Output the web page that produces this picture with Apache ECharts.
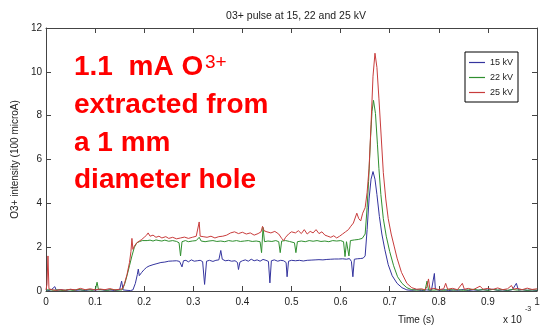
<!DOCTYPE html>
<html>
<head>
<meta charset="utf-8">
<style>
  html, body { margin: 0; padding: 0; background: #fff; }
  #chart { width: 549px; height: 328px; }
</style>
<script src="https://cdn.jsdelivr.net/npm/echarts@6/dist/echarts.min.js"></script>
</head>
<body>
<div id="chart"></div>
<script>
// O3+ beam pulse, time in units of 1e-3 s, intensity in units of 100 microA
const seriesNames = ['15 kV', '22 kV', '25 kV'];
const xTicks = [0, 0.1, 0.2, 0.3, 0.4, 0.5, 0.6, 0.7, 0.8, 0.9, 1];
const yTicks = [0, 2, 4, 6, 8, 10, 12];

const pulse15kV = [
  [0,0.05],[0.006,0.02],[0.012,0.08],[0.018,0.2],[0.021,0.03],[0.03,0.06],[0.04,0.02],[0.05,0.07],
  [0.06,0.03],[0.07,0.05],[0.08,0.02],[0.09,0.06],[0.1,0.04],[0.11,0.07],[0.12,0.03],[0.13,0.05],
  [0.14,0.02],[0.15,0.06],[0.154,0.45],[0.157,0.05],[0.165,0.03],[0.172,0.02],[0.177,0.05],[0.182,0.35],
  [0.186,0.75],[0.188,1.0],[0.19,0.7],[0.195,0.85],[0.2,0.98],[0.205,1.08],[0.21,1.14],[0.218,1.2],
  [0.226,1.25],[0.234,1.3],[0.242,1.32],[0.25,1.36],[0.258,1.37],[0.266,1.38],[0.272,1.35],[0.277,1.1],
  [0.28,1.38],[0.285,1.4],[0.29,1.33],[0.296,1.42],[0.302,1.36],[0.308,1.38],[0.314,1.4],[0.319,1.34],
  [0.323,0.3],[0.327,1.36],[0.333,1.4],[0.34,1.35],[0.346,1.4],[0.352,1.42],[0.356,1.85],[0.359,1.45],
  [0.365,1.38],[0.372,1.4],[0.378,1.36],[0.385,1.38],[0.39,1.3],[0.392,0.98],[0.395,1.32],[0.4,1.38],
  [0.406,1.42],[0.412,1.36],[0.418,1.45],[0.424,1.38],[0.43,1.42],[0.436,1.36],[0.442,1.44],[0.448,1.4],
  [0.453,1.35],[0.456,0.37],[0.459,1.38],[0.465,1.42],[0.472,1.36],[0.478,1.4],[0.484,1.38],[0.489,1.3],
  [0.491,0.65],[0.494,1.36],[0.5,1.4],[0.508,1.38],[0.516,1.4],[0.524,1.37],[0.532,1.4],[0.54,1.41],
  [0.548,1.42],[0.556,1.43],[0.564,1.42],[0.572,1.44],[0.58,1.45],[0.588,1.46],[0.596,1.46],[0.604,1.47],
  [0.612,1.45],[0.618,1.48],[0.622,1.35],[0.625,0.65],[0.628,1.45],[0.634,1.47],[0.64,1.48],[0.646,1.5],
  [0.65,1.6],[0.654,2.8],[0.658,4.2],[0.662,5.1],[0.666,5.45],[0.67,5.1],[0.674,4.4],[0.679,3.4],
  [0.684,2.6],[0.69,1.9],[0.697,1.2],[0.705,0.7],[0.715,0.35],[0.725,0.15],[0.735,0.05],[0.745,0.03],
  [0.755,0.06],[0.765,0.02],[0.775,0.05],[0.785,0.03],[0.789,0.1],[0.791,0.8],[0.793,0.08],[0.8,0.03],
  [0.81,0.06],[0.82,0.02],[0.83,0.05],[0.84,0.03],[0.85,0.07],[0.86,0.02],[0.87,0.05],[0.88,0.03],
  [0.89,0.06],[0.9,0.04],[0.91,0.08],[0.92,0.03],[0.93,0.05],[0.94,0.02],[0.95,0.06],[0.958,0.35],
  [0.962,0.04],[0.97,0.06],[0.98,0.03],[0.99,0.05],[1.0,0.02]
];

const pulse22kV = [
  [0,0.04],[0.008,0.06],[0.015,0.03],[0.025,0.05],[0.035,0.02],[0.045,0.06],[0.055,0.03],[0.065,0.07],
  [0.075,0.04],[0.085,0.06],[0.095,0.03],[0.101,0.1],[0.104,0.4],[0.107,0.05],[0.115,0.06],[0.125,0.03],
  [0.135,0.07],[0.145,0.04],[0.155,0.05],[0.16,0.3],[0.165,0.7],[0.17,1.15],[0.175,1.6],[0.18,2.0],
  [0.185,2.2],[0.19,2.25],[0.196,2.3],[0.2,2.35],[0.206,2.3],[0.212,2.32],[0.218,2.28],[0.224,2.33],
  [0.23,2.3],[0.236,2.28],[0.242,2.32],[0.25,2.27],[0.258,2.3],[0.266,2.26],[0.271,2.2],[0.274,1.6],
  [0.277,2.25],[0.284,2.3],[0.29,2.25],[0.298,2.28],[0.306,2.3],[0.312,2.45],[0.316,2.28],[0.324,2.25],
  [0.332,2.28],[0.34,2.3],[0.348,2.26],[0.356,2.28],[0.364,2.25],[0.372,2.3],[0.38,2.27],[0.388,2.3],
  [0.396,2.26],[0.404,2.28],[0.412,2.3],[0.42,2.26],[0.428,2.28],[0.436,2.25],[0.439,1.75],[0.442,2.9],
  [0.445,2.25],[0.452,2.28],[0.46,2.26],[0.468,2.3],[0.474,2.25],[0.477,1.75],[0.48,2.28],[0.488,2.3],
  [0.496,2.26],[0.506,2.2],[0.509,1.75],[0.512,2.25],[0.52,2.28],[0.528,2.25],[0.536,2.3],[0.544,2.27],
  [0.552,2.3],[0.56,2.26],[0.568,2.28],[0.576,2.25],[0.584,2.3],[0.592,2.28],[0.6,2.3],[0.606,2.25],
  [0.609,1.57],[0.612,2.25],[0.615,2.2],[0.617,1.6],[0.62,2.3],[0.628,2.33],[0.636,2.35],[0.644,2.4],
  [0.648,2.45],[0.65,2.6],[0.654,3.8],[0.657,5.0],[0.661,7.0],[0.664,8.2],[0.667,8.7],[0.671,8.1],
  [0.675,6.7],[0.678,5.6],[0.682,4.4],[0.687,3.3],[0.693,2.5],[0.7,1.8],[0.708,1.15],[0.716,0.65],
  [0.725,0.35],[0.735,0.15],[0.745,0.06],[0.755,0.04],[0.765,0.06],[0.772,0.03],[0.776,0.45],[0.779,0.05],
  [0.79,0.04],[0.8,0.06],[0.81,0.03],[0.82,0.07],[0.83,0.04],[0.84,0.06],[0.85,0.03],[0.86,0.05],
  [0.87,0.08],[0.88,0.04],[0.89,0.06],[0.9,0.03],[0.91,0.07],[0.92,0.04],[0.93,0.06],[0.94,0.03],
  [0.95,0.07],[0.96,0.04],[0.97,0.06],[0.98,0.03],[0.99,0.05],[1.0,0.04]
];

const pulse25kV = [
  [0,0.05],[0.002,0.3],[0.004,1.6],[0.006,0.1],[0.012,0.06],[0.02,0.03],[0.03,0.06],[0.04,0.04],
  [0.05,0.08],[0.06,0.05],[0.07,0.12],[0.08,0.06],[0.09,0.1],[0.1,0.05],[0.11,0.09],[0.12,0.06],
  [0.13,0.11],[0.14,0.05],[0.15,0.08],[0.156,0.1],[0.16,0.35],[0.165,0.75],[0.17,1.3],[0.173,1.8],
  [0.175,2.4],[0.177,1.9],[0.18,2.05],[0.185,2.2],[0.19,2.28],[0.195,2.35],[0.2,2.45],[0.205,2.55],
  [0.208,2.65],[0.212,2.5],[0.218,2.55],[0.224,2.45],[0.23,2.5],[0.236,2.42],[0.244,2.48],[0.25,2.4],
  [0.258,2.45],[0.266,2.38],[0.274,2.42],[0.282,2.46],[0.29,2.4],[0.298,2.45],[0.306,2.5],[0.31,2.55],
  [0.312,3.15],[0.314,2.5],[0.32,2.48],[0.328,2.45],[0.336,2.5],[0.344,2.42],[0.352,2.48],[0.36,2.5],
  [0.368,2.55],[0.376,2.65],[0.384,2.7],[0.392,2.62],[0.4,2.68],[0.408,2.6],[0.416,2.65],[0.424,2.55],
  [0.432,2.62],[0.438,2.7],[0.441,2.95],[0.444,2.75],[0.45,2.7],[0.458,2.65],[0.466,2.72],[0.474,2.6],
  [0.48,2.4],[0.484,2.3],[0.488,2.45],[0.494,2.6],[0.5,2.7],[0.508,2.65],[0.514,2.75],[0.52,2.62],
  [0.526,2.8],[0.532,2.6],[0.538,2.72],[0.544,2.65],[0.55,2.8],[0.556,2.62],[0.562,2.7],[0.568,2.55],
  [0.574,2.5],[0.58,2.45],[0.586,2.52],[0.592,2.42],[0.598,2.5],[0.604,2.6],[0.61,2.7],[0.616,2.8],
  [0.62,2.93],[0.626,3.1],[0.633,3.55],[0.637,3.3],[0.641,3.2],[0.645,3.55],[0.648,3.7],[0.65,3.8],
  [0.654,4.5],[0.658,5.6],[0.662,7.6],[0.666,9.8],[0.67,10.85],[0.674,10.2],[0.678,8.8],[0.682,7.3],
  [0.687,5.4],[0.692,4.2],[0.697,3.3],[0.703,2.6],[0.709,2.05],[0.715,1.5],[0.724,0.85],[0.735,0.35],
  [0.745,0.15],[0.755,0.08],[0.765,0.1],[0.772,0.05],[0.776,0.2],[0.779,0.55],[0.782,0.08],[0.79,0.12],
  [0.8,0.06],[0.81,0.1],[0.814,0.35],[0.818,0.08],[0.828,0.12],[0.838,0.06],[0.848,0.35],[0.852,0.08],
  [0.86,0.12],[0.87,0.06],[0.884,0.22],[0.89,0.08],[0.9,0.12],[0.91,0.07],[0.92,0.14],[0.93,0.06],
  [0.94,0.1],[0.948,0.25],[0.952,0.08],[0.96,0.12],[0.97,0.06],[0.98,0.13],[0.99,0.07],[1.0,0.1]
];

const lineColors = ['#34349e', '#2f8f2f', '#c83c3c'];
const FONT = 'Liberation Sans, Arial, sans-serif';

const chart = echarts.init(document.getElementById('chart'), null, { renderer: 'canvas' });

function tickStyle() {
  return { show: true, inside: true, length: 5, lineStyle: { color: '#444', width: 1 } };
}
function lineAxis() {
  return { show: true, onZero: false, lineStyle: { color: '#444', width: 1 } };
}

function makeLine(name, data, color) {
  return {
    name, type: 'line', data, xAxisIndex: 0, yAxisIndex: 0,
    symbol: 'none', smooth: false, animation: false,
    lineStyle: { color, width: 1 }, itemStyle: { color }
  };
}

chart.setOption({
  animation: false,
  backgroundColor: '#fff',
  title: {
    text: '03+ pulse at 15, 22 and 25 kV',
    left: 291, top: 6, textAlign: 'center',
    textStyle: { fontFamily: FONT, fontSize: 10.5, fontWeight: 'normal', color: '#222' }
  },
  grid: { left: 46, right: 12, top: 28, bottom: 37, containLabel: false },
  legend: {
    orient: 'vertical', left: 465, top: 52,
    backgroundColor: '#fff', borderColor: '#000', borderWidth: 1, borderRadius: 0,
    padding: [5, 5, 4, 4], itemGap: 4, itemWidth: 16, itemHeight: 1.2,
    icon: 'rect',
    textStyle: { fontFamily: FONT, fontSize: 9, color: '#222', lineHeight: 11 },
    data: seriesNames
  },
  xAxis: [
    {
      type: 'value', min: xTicks[0], max: xTicks[xTicks.length - 1], interval: 0.1,
      position: 'bottom', axisLine: lineAxis(), axisTick: tickStyle(), splitLine: { show: false },
      axisLabel: { fontFamily: FONT, fontSize: 10, color: '#222', margin: 6,
                   formatter: v => String(+v.toFixed(1)) }
    },
    {
      type: 'value', min: xTicks[0], max: xTicks[xTicks.length - 1], interval: 0.1,
      position: 'top', axisLine: lineAxis(), axisTick: tickStyle(), splitLine: { show: false },
      axisLabel: { show: false }
    }
  ],
  yAxis: [
    {
      type: 'value', min: yTicks[0], max: yTicks[yTicks.length - 1], interval: 2,
      position: 'left', axisLine: lineAxis(), axisTick: tickStyle(), splitLine: { show: false },
      name: 'O3+ intensity (100 microA)', nameLocation: 'middle', nameGap: 18, nameRotate: 90,
      nameTextStyle: { fontFamily: FONT, fontSize: 10, color: '#222' },
      axisLabel: { fontFamily: FONT, fontSize: 10, color: '#222', margin: 4 }
    },
    {
      type: 'value', min: yTicks[0], max: yTicks[yTicks.length - 1], interval: 2,
      position: 'right', axisLine: lineAxis(), axisTick: tickStyle(), splitLine: { show: false },
      axisLabel: { show: false }
    }
  ],
  series: [
    makeLine(seriesNames[0], pulse15kV, lineColors[0]),
    makeLine(seriesNames[1], pulse22kV, lineColors[1]),
    makeLine(seriesNames[2], pulse25kV, lineColors[2])
  ],
  graphic: [
    { type: 'text', left: 398, top: 315, style: { text: 'Time (s)', font: '10px ' + FONT, fill: '#222' } },
    { type: 'text', left: 503, top: 315, style: { text: 'x 10', font: '10px ' + FONT, fill: '#222' } },
    { type: 'text', left: 525, top: 306, style: { text: '-3', font: '7px ' + FONT, fill: '#222' } },
    // red annotation block
    { type: 'text', x: 74, y: 67, style: { text: '1.1  mA O', font: 'bold 28px ' + FONT, fill: '#ff0000', verticalAlign: 'middle' } },
    { type: 'text', x: 205, y: 63, style: { text: '3+', font: '19px ' + FONT, fill: '#ff0000', verticalAlign: 'middle' } },
    { type: 'text', x: 74, y: 105, style: { text: 'extracted from', font: 'bold 28px ' + FONT, fill: '#ff0000', verticalAlign: 'middle' } },
    { type: 'text', x: 74, y: 143, style: { text: 'a 1 mm', font: 'bold 28px ' + FONT, fill: '#ff0000', verticalAlign: 'middle' } },
    { type: 'text', x: 74, y: 180, style: { text: 'diameter hole', font: 'bold 28px ' + FONT, fill: '#ff0000', verticalAlign: 'middle' } }
  ]
});
</script>
</body>
</html>
